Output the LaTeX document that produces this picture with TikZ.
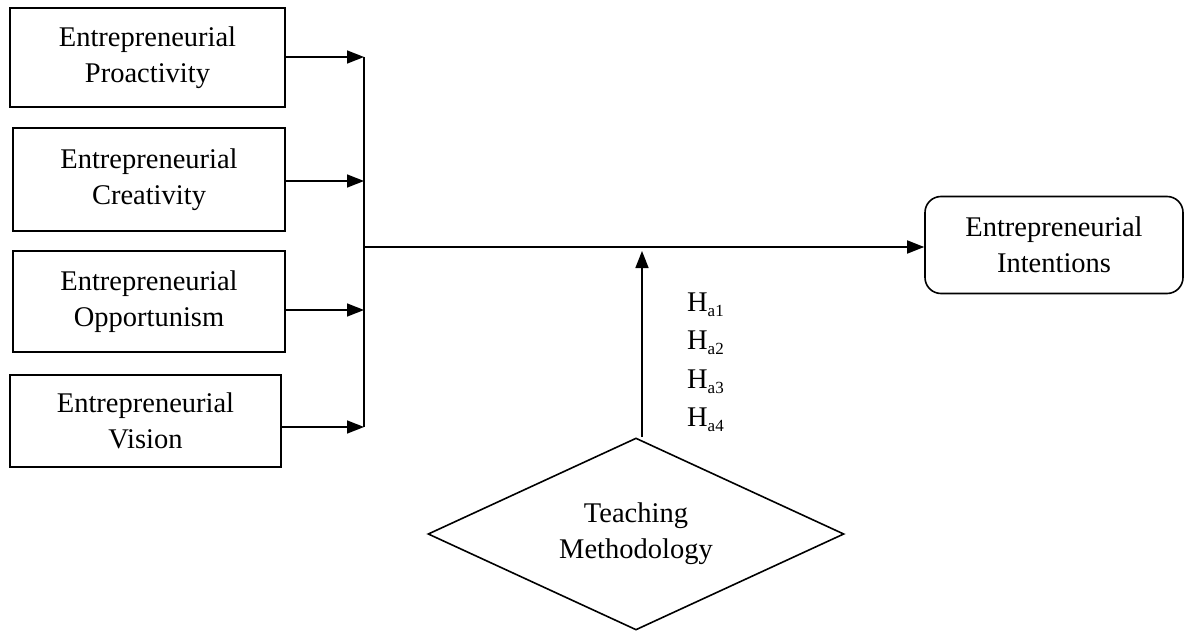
\documentclass[tikz,border=0pt]{standalone}
\usepackage{fontspec}
\setmainfont{Liberation Serif}
\usetikzlibrary{arrows.meta,shapes.geometric}

\newcommand{\Hsub}[1]{H\raisebox{-0.4ex}{\fontsize{17}{17}\selectfont a#1}}

\tikzset{
	box/.style={draw, rectangle, align=center, inner sep=0pt},
	outbox/.style={box, rounded corners=16pt},
	modbox/.style={draw, diamond, align=center, inner sep=0pt, shape aspect=2.2,
		minimum width=416pt, minimum height=192pt}
}

\begin{document}
\begin{tikzpicture}[
	>={Triangle[length=17pt,width=13pt]},
	line width=1.6pt,
	x=1pt,y=-1pt,
	font=\fontsize{28.5}{36}\selectfont
	]
\path[use as bounding box] (0,0) rectangle (1186,631);

% left boxes
\node[box, minimum width=275pt, minimum height=99pt]  (proact)  at (147.5, 57.5) {Entrepreneurial\\Proactivity};
\node[box, minimum width=272pt, minimum height=103pt] (creat)   at (149, 179.5) {Entrepreneurial\\Creativity};
\node[box, minimum width=272pt, minimum height=101pt] (opport)  at (149, 301.5) {Entrepreneurial\\Opportunism};
\node[box, minimum width=271pt, minimum height=92pt]  (vision)  at (145.5, 421) {Entrepreneurial\\Vision};

% outcome and moderator
\node[outbox, minimum width=258pt, minimum height=97pt] (intent) at (1054, 245) {Entrepreneurial\\Intentions};
\node[modbox] (teach) at (636, 534) {Teaching\\Methodology};

\coordinate (bartop) at (364, 57);
\coordinate (barbot) at (364, 427);
\coordinate (junc) at (364, 247);

\draw (bartop) -- (barbot);
\draw[->] (proact.east |- bartop) -- (bartop);
\draw[->] (creat.east |- 0,181) -- (364,181);
\draw[->] (opport.east |- 0,310) -- (364,310);
\draw[->] (vision.east |- barbot) -- (barbot);

\draw[->] (junc) -- (intent.west |- junc);
\draw[->] ([xshift=6pt]teach.north) -- ([xshift=6pt, yshift=-4pt]teach.north |- junc);

% hypotheses
\node[anchor=west] (ha1) at (683, 305) {\Hsub{1}};
\node[anchor=west] (ha2) at (683, 343) {\Hsub{2}};
\node[anchor=west] (ha3) at (683, 382) {\Hsub{3}};
\node[anchor=west] (ha4) at (683, 420) {\Hsub{4}};

\end{tikzpicture}
\end{document}
